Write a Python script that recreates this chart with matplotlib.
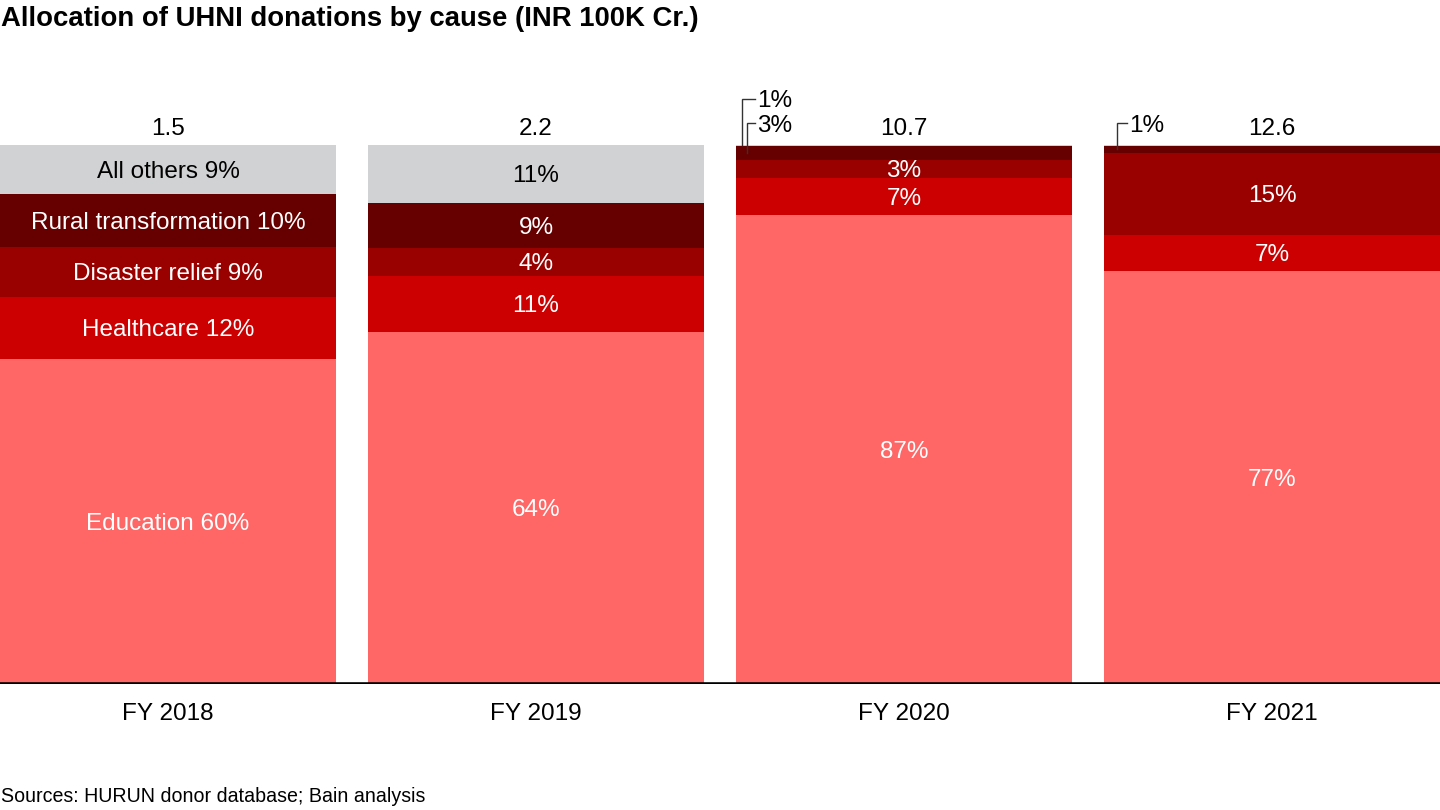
import matplotlib
matplotlib.use("Agg")
from matplotlib import pyplot as plt
from matplotlib.transforms import offset_copy
import numpy as np

plt.rcParams['font.family'] = ['Liberation Sans', 'DejaVu Sans']

# Données (parts estimées en %, de bas en haut)
years = ["FY 2018", "FY 2019", "FY 2020", "FY 2021"]
totals = ["1.5", "2.2", "10.7", "12.6"]
causes = ["Education", "Healthcare", "Disaster relief", "Rural transformation", "All others"]
education = [60.3, 65.3, 87.0, 76.6]
healthcare = [11.5, 10.4, 6.9, 6.7]
disaster = [9.3, 5.1, 3.3, 15.3]
rural = [9.8, 8.4, 2.6, 1.2]
others = [9.1, 10.8, 0.2, 0.2]

# libellés affichés dans les segments ("" = pas de libellé)
labels_edu = ["Education 60%", "64%", "87%", "77%"]
labels_health = ["Healthcare 12%", "11%", "7%", "7%"]
labels_dis = ["Disaster relief 9%", "4%", "3%", "15%"]
labels_rural = ["Rural transformation 10%", "9%", "", ""]
labels_others = ["All others 9%", "11%", "", ""]

colors = ["#FF6666", "#CC0000", "#990000", "#660000", "#D1D2D4"]
text_colors = ["white", "white", "white", "white", "black"]
fs = 17.5

fig = plt.figure(figsize=(14.4, 8.1), dpi=100)
ax = fig.add_axes([0, 126 / 810, 1, 539 / 810])
tr = offset_copy(ax.transData, fig=fig, y=-1.6, units="points")  # petit décalage vertical du texte

x = np.arange(len(years))
width = 336 / 368
series = [education, healthcare, disaster, rural, others]
labels = [labels_edu, labels_health, labels_dis, labels_rural, labels_others]

bottom = np.zeros(len(years))
for vals, labs, col, tcol in zip(series, labels, colors, text_colors):
    vals = np.array(vals)
    ax.bar(x, vals, width, bottom=bottom, color=col, edgecolor="none")
    for i in range(len(years)):
        if labs[i]:
            ax.text(x[i], bottom[i] + vals[i] / 2, labs[i], ha="center", va="center",
                    color=tcol, fontsize=fs, transform=tr)
    bottom += vals

# Totaux au-dessus des barres
for i in range(len(years)):
    ax.text(x[i], 103.3, totals[i], ha="center", va="center", fontsize=fs, transform=tr)

# Callouts pour les petits segments
px = 1 / 368  # un pixel en unité x
left = x - width / 2
rural_mid = np.array(education) + np.array(healthcare) + np.array(disaster) + np.array(rural) / 2


def callout(xl, xend, ybottom, ytext, text):
    ax.plot([xl, xl, xend], [ybottom, ytext, ytext], color="#333333", lw=1,
            clip_on=False, solid_joinstyle="miter")
    ax.text(xend + 2 * px, ytext, text, ha="left", va="center", fontsize=fs, transform=tr)


callout(left[2] + 6 * px, left[2] + 19 * px, 100, 108.6, "1%")
callout(left[2] + 11 * px, left[2] + 19 * px, rural_mid[2], 104.0, "3%")
callout(left[3] + 13 * px, left[3] + 23 * px, rural_mid[3], 104.0, "1%")

ax.axhline(0, color="black", lw=2.6)
ax.set_xlim(-168 / 368, 3 + 168 / 368)
ax.set_ylim(0, 100)
ax.set_xticks(x)
ax.set_xticklabels(years, fontsize=fs)
ax.tick_params(axis="x", length=0, pad=14)
ax.set_yticks([])
for s in ax.spines.values():
    s.set_visible(False)

fig.text(1 / 1440, 1 - 19 / 810, "Allocation of UHNI donations by cause (INR 100K Cr.)",
         ha="left", va="center", fontsize=19.8, fontweight="bold")
fig.text(1 / 1440, 1 - 797 / 810, "Sources: HURUN donor database; Bain analysis",
         ha="left", va="center", fontsize=14.1)

fig.savefig("out.png", dpi=100)
